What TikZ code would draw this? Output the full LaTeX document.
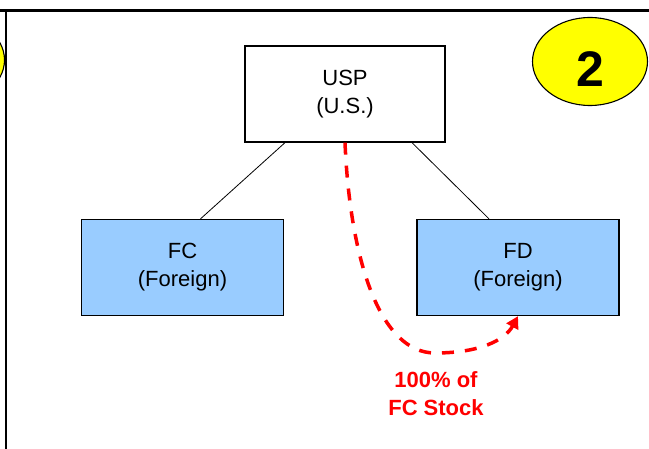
\documentclass[tikz,border=0pt]{standalone}
\usepackage{fontspec}
\setmainfont{Liberation Sans}
\usetikzlibrary{arrows.meta,shapes.geometric,calc}
\definecolor{boxblue}{HTML}{99CCFF}
\definecolor{badgeyellow}{HTML}{FFFF00}
\definecolor{arrowred}{HTML}{FF0000}
\begin{document}
\begin{tikzpicture}[x=1pt,y=-1pt,
  entity/.style={draw=black, line width=1.3pt, minimum height=96pt, align=center,
    inner sep=0pt, font=\fontsize{22}{28}\selectfont},
  usbox/.style={entity, fill=white, minimum width=200pt},
  forbox/.style={entity, fill=boxblue, minimum width=202pt},
  badge/.style={ellipse, draw=black, line width=1.1pt, fill=badgeyellow,
    minimum width=115pt, minimum height=88pt, inner sep=0pt,
    text height=50pt, text depth=0pt,
    font=\bfseries\fontsize{50}{50}\selectfont},
  frameline/.style={draw=black},
  link/.style={draw=black, line width=0.8pt},
  transfer/.style={draw=arrowred, line width=3.5pt, dash pattern=on 12pt off 11pt,
    -{Triangle[length=12pt,width=13pt]}},
  redlabel/.style={text=arrowred, align=center, inner sep=0pt,
    font=\bfseries\fontsize{22}{28}\selectfont}
]
\useasboundingbox (0,0) rectangle (649,449);
\begin{scope}
  \clip (0,0) rectangle (649,449);
  \node[badge] (prevbadge) at (-53,60) {};
\end{scope}
\draw[frameline, line width=3pt] (0,10.5) -- (649,10.5);
\draw[frameline, line width=2.5pt] (6,10.5) -- (6,449);

\node[badge] (badge) at (590,61.5) {2};

\node[usbox] (usp) at (345,94) {USP\\(U.S.)};
\node[forbox] (fc) at (182.5,267.5) {FC\\(Foreign)};
\node[forbox] (fd) at (518,267.5) {FD\\(Foreign)};

\draw[link] ($(usp.south)+(-60,0)$) -- ($(fc.north)+(18,0)$);
\draw[link] ($(usp.south)+(67,0)$) -- ($(fd.north)+(-29,0)$);

\coordinate (low) at (435,353);
\draw[transfer] (usp.south) .. controls (350,260) and (380,353) .. (low)
  .. controls (480,353) and (505,340) .. (fd.south);

\node[redlabel] (lbl) at (436,394) {100\% of\\FC Stock};
\end{tikzpicture}
\end{document}
